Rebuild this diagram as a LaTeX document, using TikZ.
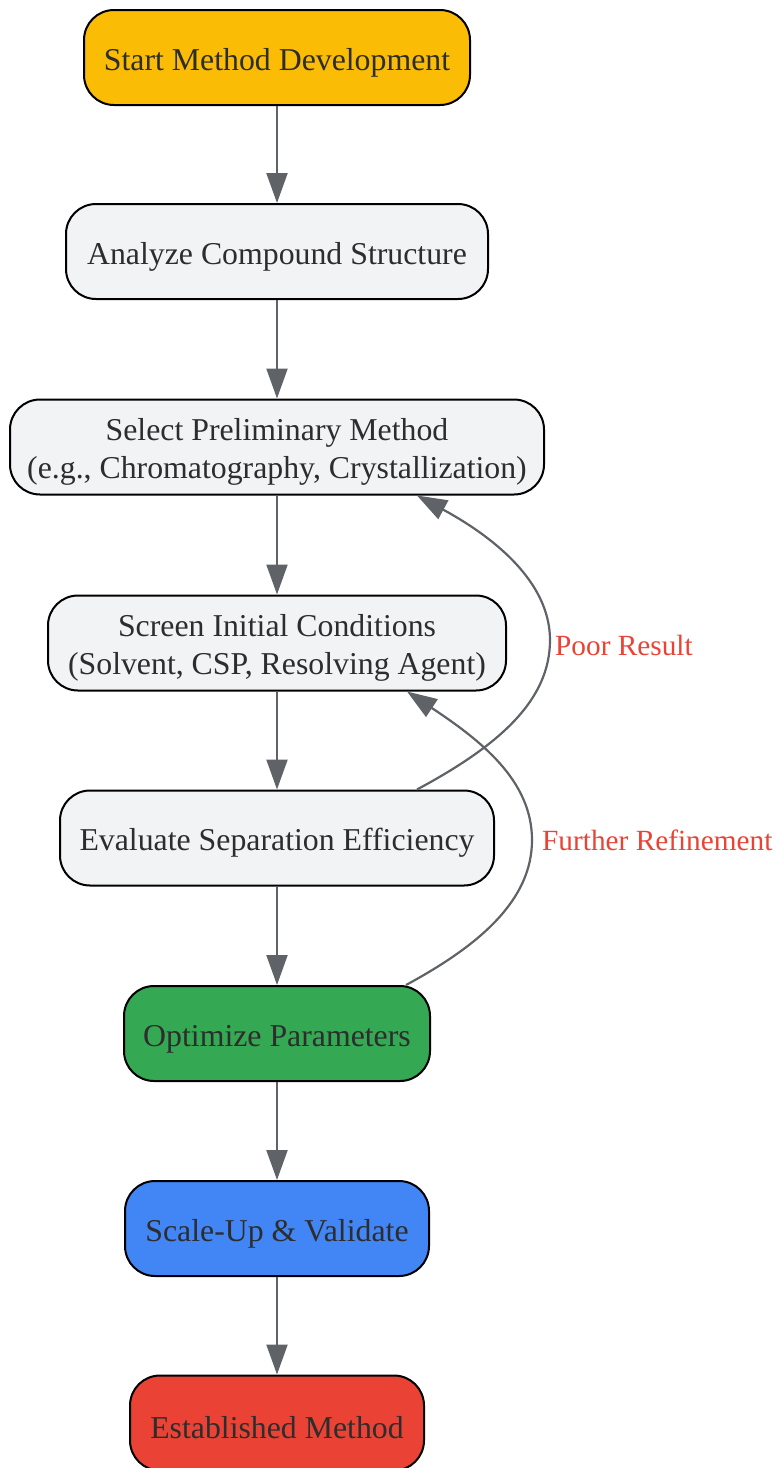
\documentclass[tikz,border=0pt]{standalone}
\usepackage{fontspec}
\setmainfont{Liberation Serif}
\usetikzlibrary{arrows.meta,calc}
\definecolor{cyel}{HTML}{FBBC05}
\definecolor{cgray}{HTML}{F1F3F4}
\definecolor{cgreen}{HTML}{34A853}
\definecolor{cblue}{HTML}{4285F4}
\definecolor{cred}{HTML}{EA4335}
\definecolor{cline}{HTML}{5F6368}
\definecolor{ctext}{HTML}{2D2D2D}
\definecolor{clabel}{HTML}{EA4335}
\newcommand{\tstrut}{\rule{0pt}{32pt}}
\tikzset{
  box/.style={draw=black, line width=2pt, rounded corners=30pt, minimum height=95pt,
    align=center, text=ctext, font=\fontsize{31.8}{37.5}\selectfont, inner sep=0pt},
  conn/.style={draw=cline, line width=2.2pt, -{Triangle[width=21pt,length=30pt]}},
  lbl/.style={text=clabel, font=\fontsize{29.3}{34}\selectfont, anchor=west, inner sep=0pt}
}
\begin{document}
\begin{tikzpicture}[x=1pt,y=-1pt]
\useasboundingbox (0,0) rectangle (776,1468);
\node[box, fill=cyel, minimum width=386pt] (start) at (277,57.5) {\tstrut Start Method Development};
\node[box, fill=cgray, minimum width=422pt] (analyze) at (277,251.5) {\tstrut Analyze Compound Structure};
\node[box, fill=cgray, minimum width=534pt] (select) at (277,447) {\tstrut Select Preliminary Method\\(e.g., Chromatography, Crystallization)};
\node[box, fill=cgray, minimum width=458pt] (screen) at (277,643) {\tstrut Screen Initial Conditions\\(Solvent, CSP, Resolving Agent)};
\node[box, fill=cgray, minimum width=434pt] (eval) at (277,838) {\tstrut Evaluate Separation Efficiency};
\node[box, fill=cgreen, minimum width=306pt] (opt) at (277,1033.5) {\tstrut Optimize Parameters};
\node[box, fill=cblue, minimum width=304pt] (scale) at (277,1228.5) {\tstrut Scale-Up \& Validate};
\node[box, fill=cred, minimum width=294pt] (est) at (277,1423) {\tstrut Established Method};

\draw[conn] (start) -- (analyze);
\draw[conn] (analyze) -- (select);
\draw[conn] (select) -- (screen);
\draw[conn] (screen) -- (eval);
\draw[conn] (eval) -- (opt);
\draw[conn] (opt) -- (scale);
\draw[conn] (scale) -- (est);

\coordinate (p1) at (550,640);
\coordinate (p2) at (532,840);
\draw[conn] ([xshift=140pt]eval.north) .. controls (500,745) and (550,700) .. (p1)
  .. controls (550,580) and (490,535) .. ([xshift=140pt]select.south);
\draw[conn] ([xshift=129pt]opt.north) .. controls (480,945) and (532,900) .. (p2)
  .. controls (532,780) and (480,740) .. ([xshift=130pt]screen.south);

\node[lbl] (l1) at (555,645) {Poor Result};
\node[lbl] (l2) at (542,840) {Further Refinement};
\end{tikzpicture}
\end{document}
